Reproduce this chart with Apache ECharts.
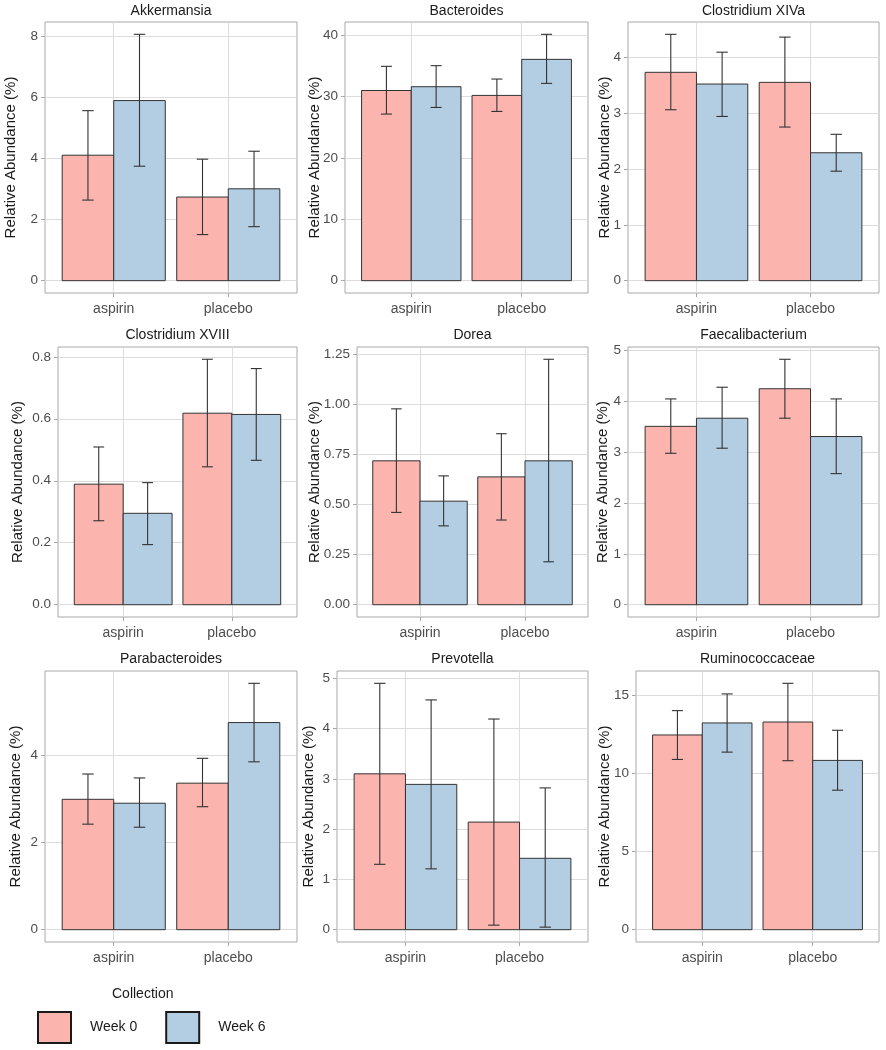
<!DOCTYPE html>
<html><head><meta charset="utf-8">
<script src="https://cdn.jsdelivr.net/npm/echarts@6/dist/echarts.min.js"></script>
<style>html,body{margin:0;padding:0;background:#fff}#c{width:886px;height:1050px}</style>
</head><body><div id="c"></div>
<script>
const taxa = ['Akkermansia','Bacteroides','Clostridium XIVa','Clostridium XVIII','Dorea','Faecalibacterium','Parabacteroides','Prevotella','Ruminococcaceae'];
const groups = ['aspirin','placebo'];
const weeks = ['Week 0','Week 6'];
// each entry: [aspirin, placebo]
const week0Mean = [[4.11,2.74],[31.0,30.2],[3.73,3.55],[0.389,0.618],[0.717,0.637],[3.51,4.25],[2.99,3.36],[3.10,2.14],[12.48,13.31]];
const week0Low  = [[2.64,1.51],[27.16,27.59],[3.06,2.75],[0.271,0.445],[0.460,0.422],[2.98,3.67],[2.42,2.82],[1.30,0.09],[10.91,10.83]];
const week0High = [[5.57,3.98],[34.94,32.87],[4.41,4.36],[0.509,0.792],[0.976,0.852],[4.05,4.83],[3.57,3.93],[4.90,4.19],[14.04,15.79]];
const week6Mean = [[5.90,3.01],[31.62,36.08],[3.52,2.29],[0.295,0.614],[0.516,0.717],[3.67,3.31],[2.90,4.75],[2.89,1.42],[13.25,10.85]];
const week6Low  = [[3.75,1.77],[28.24,32.16],[2.94,1.96],[0.194,0.466],[0.393,0.214],[3.08,2.58],[2.35,3.85],[1.21,0.05],[11.38,8.94]];
const week6High = [[8.07,4.24],[35.05,40.16],[4.09,2.62],[0.394,0.762],[0.642,1.223],[4.28,4.05],[3.48,5.65],[4.57,2.82],[15.11,12.78]];
const yTickLabels = [
  ['0','2','4','6','8'],
  ['0','10','20','30','40'],
  ['0','1','2','3','4'],
  ['0.0','0.2','0.4','0.6','0.8'],
  ['0.00','0.25','0.50','0.75','1.00','1.25'],
  ['0','1','2','3','4','5'],
  ['0','2','4'],
  ['0','1','2','3','4','5'],
  ['0','5','10','15']
];

// layout (pixels)
const colRight = [297, 588, 879];
const rowTop = [22, 347, 671];
const rowH = [271, 270, 271];
const titleTop = [4, 328, 652];
const lefts = [45, 345, 628, 58, 357, 628, 45, 337, 636];
const nameGaps = [26.5, 23, 16, 33, 35, 17.5, 21.5, 21, 24];
const fills = ['#FBB4AE', '#B3CDE3'];
const FONT = '"Liberation Sans", Arial, sans-serif';

const means = [week0Mean, week6Mean], lows = [week0Low, week6Low], highs = [week0High, week6High];

function makeRender(w) {
  return function (params, api) {
    const x = api.value(0), m = api.value(1), lo = api.value(2), hi = api.value(3);
    const c = x + (w === 0 ? -0.225 : 0.225);
    const a = api.coord([c - 0.225, 0]);
    const b = api.coord([c + 0.225, m]);
    const eLo = api.coord([c, lo]);
    const eHi = api.coord([c, hi]);
    const capL = api.coord([c - 0.05, hi])[0];
    const capR = api.coord([c + 0.05, hi])[0];
    const lnStyle = { stroke: '#333333', lineWidth: 1.1 };
    return {
      type: 'group',
      children: [
        { type: 'rect', shape: { x: a[0], y: b[1], width: b[0] - a[0], height: a[1] - b[1] },
          style: { fill: fills[w], stroke: '#333333', lineWidth: 1 } },
        { type: 'line', shape: { x1: eLo[0], y1: eLo[1], x2: eHi[0], y2: eHi[1] }, style: lnStyle },
        { type: 'line', shape: { x1: capL, y1: eHi[1], x2: capR, y2: eHi[1] }, style: lnStyle },
        { type: 'line', shape: { x1: capL, y1: eLo[1], x2: capR, y2: eLo[1] }, style: lnStyle }
      ]
    };
  };
}

const grids = [], xAxes = [], yAxes = [], series = [], titles = [];
taxa.forEach((name, i) => {
  const r = Math.floor(i / 3), col = i % 3;
  const left = lefts[i];
  grids.push({ left: left, top: rowTop[r], width: colRight[col] - left, height: rowH[r],
    show: true, borderColor: '#A8A8A8', borderWidth: 1, containLabel: false, outerBoundsMode: 'none' });
  titles.push({ text: name, left: (left + colRight[col]) / 2, top: titleTop[r], textAlign: 'center', padding: 0,
    textStyle: { fontSize: 14, fontWeight: 'normal', color: '#1a1a1a', fontFamily: FONT } });
  xAxes.push({
    type: 'value', gridIndex: i, min: 0.4, max: 2.6,
    axisLine: { show: false, onZero: false },
    axisTick: { show: true, customValues: [1, 2], length: 4, lineStyle: { color: '#A8A8A8' } },
    axisLabel: { customValues: [1, 2], formatter: v => groups[Math.round(v) - 1], fontSize: 14, color: '#4D4D4D', margin: 9, fontFamily: FONT },
    splitLine: { show: true, lineStyle: { color: '#DCDCDC', width: 1 } }
  });
  const tickVals = yTickLabels[i].map(Number);
  const maxTop = Math.max(week0High[i][0], week0High[i][1], week6High[i][0], week6High[i][1]);
  yAxes.push({
    type: 'value', gridIndex: i, min: -0.05 * maxTop, max: 1.05 * maxTop,
    name: 'Relative Abundance (%)', nameLocation: 'middle', nameRotate: 90, nameGap: nameGaps[i], nameMoveOverlap: false,
    nameTextStyle: { fontSize: 15, color: '#1a1a1a', fontFamily: FONT },
    axisLine: { show: false, onZero: false },
    axisTick: { show: true, customValues: tickVals, length: 4, lineStyle: { color: '#A8A8A8' } },
    axisLabel: { customValues: tickVals, formatter: v => { const k = tickVals.findIndex(t => Math.abs(t - v) < 1e-9); return k >= 0 ? yTickLabels[i][k] : ''; },
      fontSize: 13.5, color: '#4D4D4D', margin: 7, fontFamily: FONT },
    splitLine: { show: true, lineStyle: { color: '#DCDCDC', width: 1 } }
  });
  for (let w = 0; w < 2; w++) {
    series.push({
      type: 'custom', name: weeks[w], xAxisIndex: i, yAxisIndex: i,
      itemStyle: { color: fills[w] },
      encode: { x: 0, y: [1, 2, 3] },
      data: groups.map((g, j) => [j + 1, means[w][i][j], lows[w][i][j], highs[w][i][j]]),
      renderItem: makeRender(w),
      silent: true
    });
  }
});
titles.push({ text: 'Collection', left: 112, top: 987, padding: 0,
  textStyle: { fontSize: 14, fontWeight: 'normal', color: '#1a1a1a', fontFamily: FONT } });

const chart = echarts.init(document.getElementById('c'), null, { renderer: 'canvas' });
chart.setOption({
  animation: false,
  backgroundColor: '#ffffff',
  textStyle: { fontFamily: FONT },
  title: titles,
  grid: grids,
  xAxis: xAxes,
  yAxis: yAxes,
  legend: {
    data: weeks, left: 37, top: 1011, orient: 'horizontal', icon: 'rect',
    itemWidth: 33, itemHeight: 31, itemGap: 28, padding: 0,
    itemStyle: { borderColor: '#1a1a1a', borderWidth: 2 },
    textStyle: { fontSize: 14, color: '#1a1a1a', padding: [0, 0, 0, 14], fontFamily: FONT }
  },
  series: series
});
</script>
</body></html>
